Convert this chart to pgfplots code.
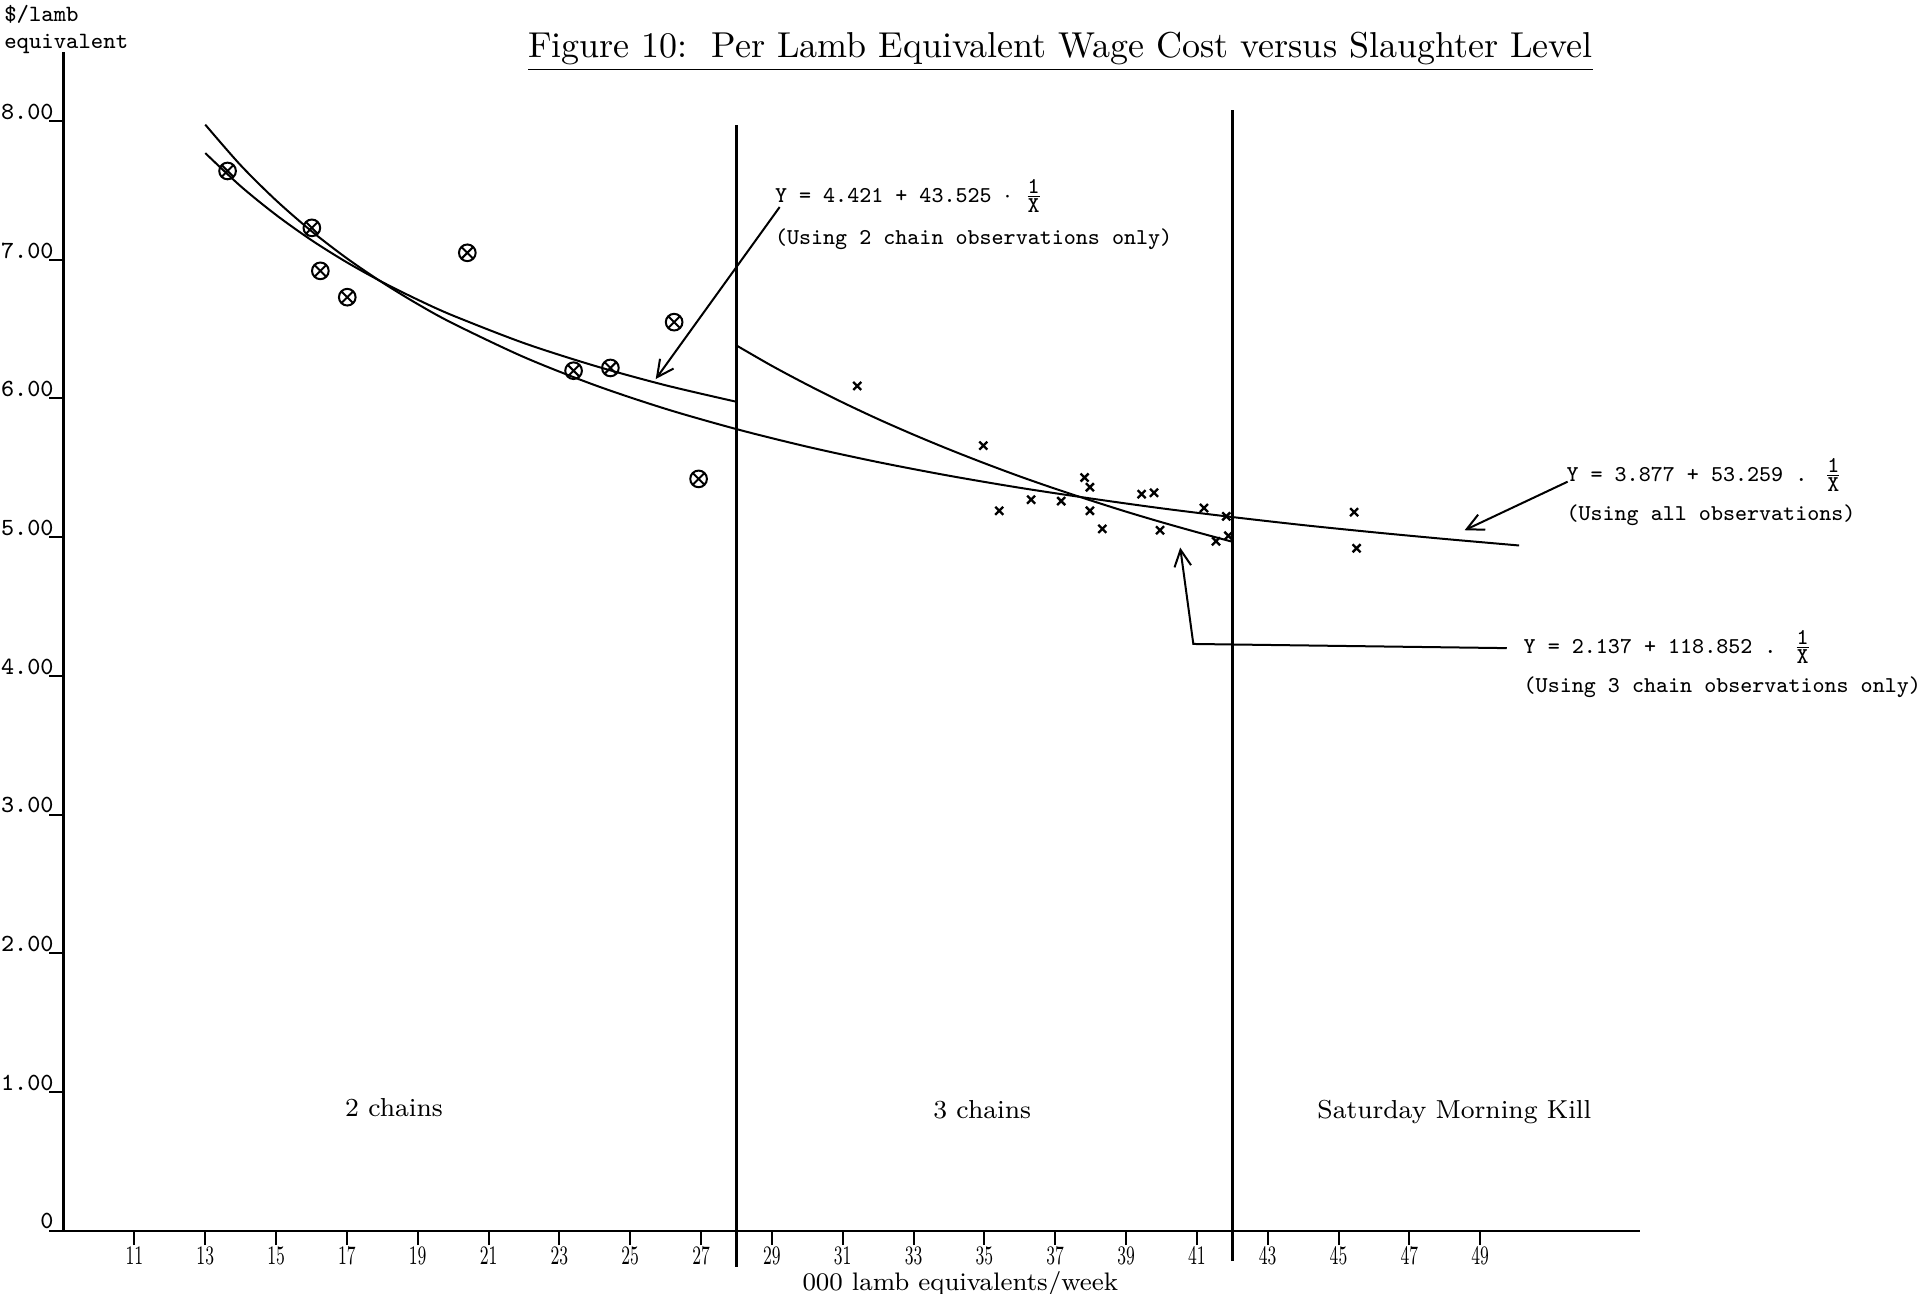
\documentclass[border=0pt]{standalone}
\usepackage{fontspec}
\usepackage{pgfplots}
\pgfplotsset{compat=1.18}
\usetikzlibrary{arrows.meta}
\newcommand\tw{\ttfamily\fontsize{6.8}{8}\selectfont}
\newcommand\fr[1]{$\frac{\mbox{\tw 1}}{\mbox{\tw X}}$}
\begin{document}
\begin{tikzpicture}
\path[use as bounding box] (-19.08pt,-18.7pt) rectangle (556.3pt,369.2pt);
\begin{axis}[
  x=10.624pt, y=41.61pt,
  xmin=9, xmax=53.5, ymin=0, ymax=8.5,
  axis x line=bottom, axis y line=left,
  axis line style={-, line width=0.7pt},
  xtick={11,13,...,49},
  ytick={0,1,...,8},
  yticklabels={0,1.00,2.00,3.00,4.00,5.00,6.00,7.00,8.00},
  xticklabel={\scalebox{0.62}[1]{\pgfmathprintnumber{\tick}}},
  xticklabel style={font=\fontsize{7.6}{8}\selectfont, inner sep=1pt, yshift=0.5pt},
  yticklabel style={font=\ttfamily\fontsize{7.4}{8}\selectfont, anchor=east, xshift=4.8pt, yshift=2.8pt},
  tick align=outside,
  major tick length=4.3pt,
  tick style={black, line width=0.6pt},
  clip=false,
]
% fitted curves (values from the printed equations)
\addplot[smooth, line width=0.6pt] coordinates {
(13,7.974) (14,7.681) (15,7.428) (16,7.206) (17,7.010) (18,6.836) (19,6.680)
(20,6.540) (22,6.298) (24,6.096) (26,5.925) (28,5.779) (30,5.652) (32,5.541)
(34,5.443) (36,5.356) (38,5.279) (40,5.208) (42,5.145) (44,5.087) (46,5.035)
(48,4.987) (50.1,4.940)};
\addplot[smooth, line width=0.6pt] coordinates {
(13,7.769) (14,7.530) (15,7.323) (16,7.141) (17,6.981) (18,6.839) (19,6.712)
(20,6.597) (22,6.399) (24,6.235) (26,6.095) (28,5.976)};
\addplot[smooth, line width=0.6pt] coordinates {
(28,6.382) (29,6.235) (30,6.099) (31,5.971) (32,5.851) (33,5.739) (34,5.633)
(35,5.533) (36,5.438) (37,5.349) (38,5.265) (39,5.184) (40,5.108) (41,5.036)
(42,4.967)};
% dividing lines
\addplot[line width=0.8pt] coordinates {(28,-0.26) (28,7.97)};
\addplot[line width=0.8pt] coordinates {(42,-0.22) (42,8.08)};
% 2 chain observations
\addplot[only marks, mark=otimes, mark size=2.5pt, mark options={line width=0.6pt}] coordinates {
(13.63,7.64) (16.01,7.23) (16.25,6.92) (17.01,6.73) (20.40,7.05)
(23.40,6.20) (24.44,6.22) (26.24,6.55) (26.93,5.42)};
% 3 chain and Saturday observations
\addplot[only marks, mark=x, mark size=1.7pt, mark options={line width=0.7pt}] coordinates {
(31.41,6.09) (34.97,5.66) (35.42,5.19) (36.32,5.27) (37.17,5.26) (37.83,5.43)
(37.98,5.36) (37.98,5.19) (38.33,5.06) (39.44,5.31) (39.79,5.32) (39.96,5.05)
(41.20,5.21) (41.83,5.15) (41.89,5.01) (41.54,4.97) (45.44,5.18) (45.51,4.92)};
% arrows
\draw[line width=0.6pt, -{Straight Barb[length=5pt,width=5pt]}] (axis cs:29.22,7.38) -- (axis cs:25.72,6.14);
\draw[line width=0.6pt, -{Straight Barb[length=5pt,width=5pt]}] (axis cs:51.47,5.40) -- (axis cs:48.56,5.05);
\draw[line width=0.6pt, -{Straight Barb[length=5pt,width=5pt]}] (axis cs:49.75,4.20) -- (axis cs:40.90,4.23) -- (axis cs:40.53,4.925);
% texts
\node[anchor=base] at (axis cs:37.15,8.457) {\fontsize{10.8}{12}\selectfont\underline{Figure 10:\ \ Per Lamb Equivalent Wage Cost versus Slaughter Level}};
\node[anchor=west, align=left, inner sep=0, font=\ttfamily\fontsize{7}{8.07}\selectfont] at (axis cs:9,8.66) [xshift=-18pt] {\$/lamb\\equivalent};
\node[anchor=west, inner sep=0, font=\tw] at (axis cs:29.07,7.46) {Y = 4.421 + 43.525 $\cdot$ \fr{}};
\node[anchor=west, inner sep=0, font=\tw] at (axis cs:29.07,7.15) {(Using 2 chain observations only)};
\node[anchor=west, inner sep=0, font=\tw] at (axis cs:51.42,5.45) {Y = 3.877 + 53.259 . \fr{}};
\node[anchor=west, inner sep=0, font=\tw] at (axis cs:51.42,5.16) {(Using all observations)};
\node[anchor=west, inner sep=0, font=\tw] at (axis cs:50.21,4.21) {Y = 2.137 + 118.852 . \fr{}};
\node[anchor=west, inner sep=0, font=\tw] at (axis cs:50.21,3.92) {(Using 3 chain observations only)};
\node[font=\fontsize{7.8}{10}\selectfont] at (axis cs:18.33,0.89) {2 chains};
\node[font=\fontsize{7.8}{10}\selectfont] at (axis cs:34.94,0.87) {3 chains};
\node[font=\fontsize{7.8}{10}\selectfont] at (axis cs:48.27,0.855) {Saturday Morning Kill};
\node[inner sep=0, font=\fontsize{7.6}{9}\selectfont] at (axis cs:34.32,-0.385) {000 lamb equivalents/week};
\end{axis}
\end{tikzpicture}
\end{document}
